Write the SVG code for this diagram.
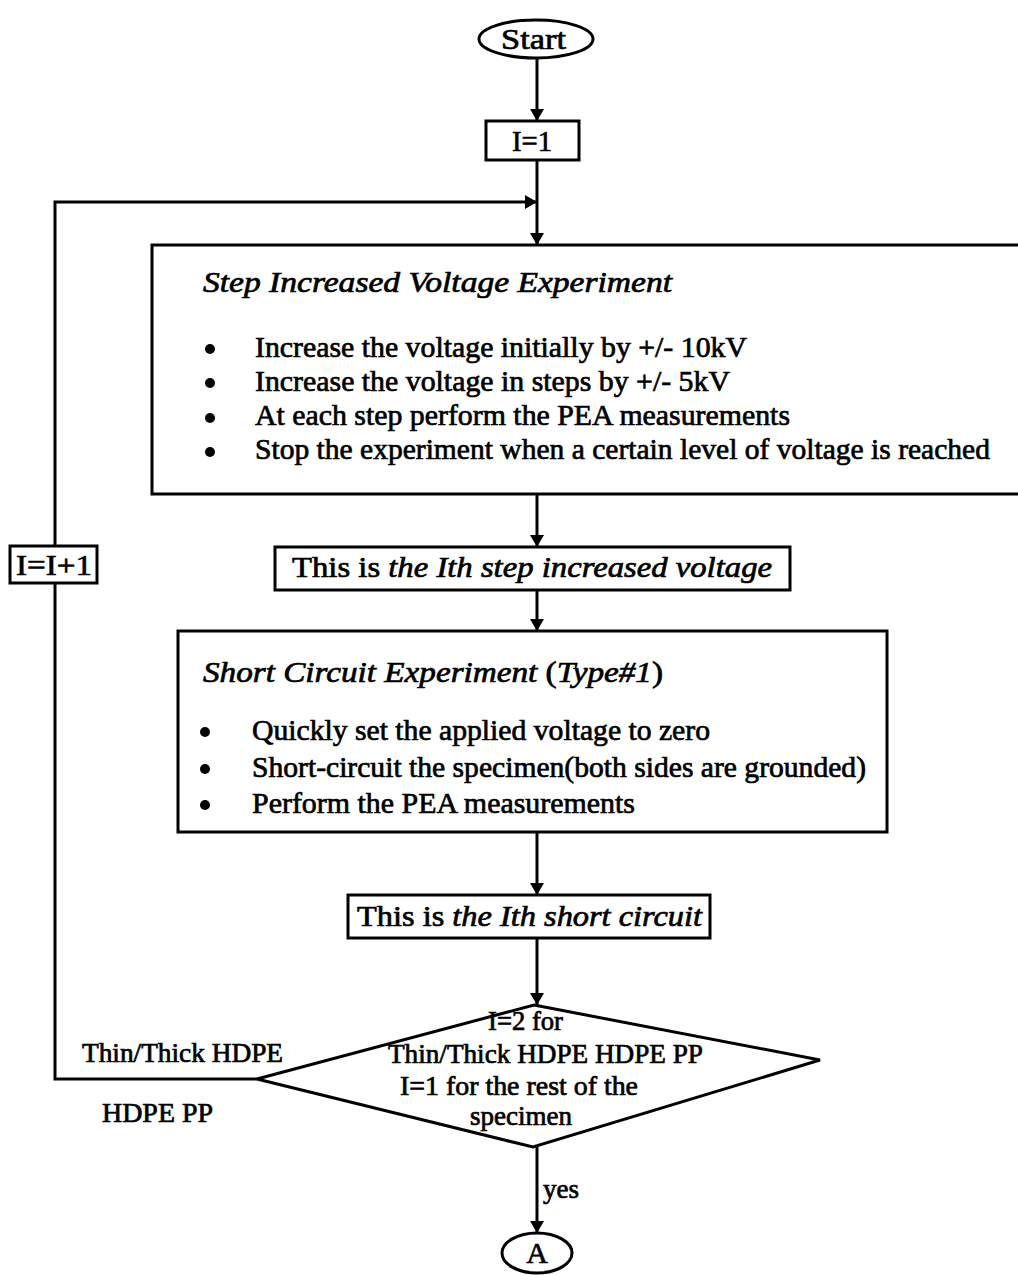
<svg xmlns="http://www.w3.org/2000/svg" width="1018" height="1275" viewBox="0 0 1018 1275">
  <defs>
    <marker id="arrow" viewBox="0 0 12 14" refX="12" refY="7" markerWidth="12" markerHeight="14" markerUnits="userSpaceOnUse" orient="auto">
      <path d="M0,0 L12,7 L0,14 Z" fill="#000"/>
    </marker>
    <style>
      .shape { fill: #fff; stroke: #000; stroke-width: 3; }
      .wire { fill: none; stroke: #000; stroke-width: 3; }
      text { font-family: "Liberation Serif", "Times New Roman", serif; font-size: 30px; fill: #000; stroke: #000; stroke-width: 0.7; }
      .it { font-style: italic; }
      .c { text-anchor: middle; }
      .sm { font-size: 27px; }
      .dot { fill: #000; }
    </style>
  </defs>
  <rect width="1018" height="1275" fill="#fff"/>

  <!-- connectors -->
  <g id="connectors">
    <line class="wire" x1="537" y1="58" x2="537" y2="121" marker-end="url(#arrow)"/>
    <line class="wire" x1="537" y1="160" x2="537" y2="245" marker-end="url(#arrow)"/>
    <line class="wire" x1="537" y1="494" x2="537" y2="547" marker-end="url(#arrow)"/>
    <line class="wire" x1="537" y1="590" x2="537" y2="631" marker-end="url(#arrow)"/>
    <line class="wire" x1="537" y1="832" x2="537" y2="895" marker-end="url(#arrow)"/>
    <line class="wire" x1="537" y1="938" x2="537" y2="1005" marker-end="url(#arrow)"/>
    <line class="wire" x1="537" y1="1147" x2="537" y2="1233" marker-end="url(#arrow)"/>
    <!-- loop back from the decision to the top of the experiment -->
    <polyline class="wire" points="257,1079 55,1079 55,583"/>
    <polyline class="wire" points="55,546 55,202 537,202" marker-end="url(#arrow)"/>
    <text class="sm" x="543" y="1198">yes</text>
    <text class="sm" x="82" y="1062" textLength="201" lengthAdjust="spacingAndGlyphs">Thin/Thick HDPE</text>
    <text class="sm" x="102" y="1122" textLength="111" lengthAdjust="spacingAndGlyphs">HDPE PP</text>
  </g>

  <g id="start">
    <ellipse class="shape" cx="536" cy="39" rx="57" ry="19"/>
    <text x="501" y="49" textLength="65" lengthAdjust="spacingAndGlyphs">Start</text>
  </g>

  <g id="init">
    <rect class="shape" x="486" y="121" width="93" height="39"/>
    <text x="512" y="151" textLength="40" lengthAdjust="spacingAndGlyphs">I=1</text>
  </g>

  <g id="increment">
    <rect class="shape" x="10" y="546" width="87" height="37"/>
    <text x="16" y="575" textLength="76" lengthAdjust="spacingAndGlyphs">I=I+1</text>
  </g>

  <g id="step-voltage">
    <rect class="shape" x="152" y="245" width="880" height="249"/>
    <text class="it" x="203" y="292" textLength="469" lengthAdjust="spacingAndGlyphs">Step Increased Voltage Experiment</text>
    <circle class="dot" cx="210" cy="349" r="5"/>
    <circle class="dot" cx="210" cy="383" r="5"/>
    <circle class="dot" cx="210" cy="418" r="5"/>
    <circle class="dot" cx="210" cy="452" r="5"/>
    <text x="255" y="357" textLength="492" lengthAdjust="spacingAndGlyphs">Increase the voltage initially by +/- 10kV</text>
    <text x="255" y="391" textLength="475" lengthAdjust="spacingAndGlyphs">Increase the voltage in steps by +/- 5kV</text>
    <text x="255" y="425" textLength="535" lengthAdjust="spacingAndGlyphs">At each step perform the PEA measurements</text>
    <text x="255" y="459" textLength="735" lengthAdjust="spacingAndGlyphs">Stop the experiment when a certain level of voltage is reached</text>
  </g>

  <g id="step-count">
    <rect class="shape" x="275" y="547" width="515" height="43"/>
    <text x="292" y="577" textLength="480" lengthAdjust="spacingAndGlyphs">This is <tspan class="it">the Ith step increased voltage</tspan></text>
  </g>

  <g id="short-circuit">
    <rect class="shape" x="178" y="631" width="709" height="201"/>
    <text x="203" y="682" textLength="460" lengthAdjust="spacingAndGlyphs"><tspan class="it">Short Circuit Experiment </tspan>(<tspan class="it">Type#1</tspan>)</text>
    <circle class="dot" cx="205" cy="732" r="5"/>
    <circle class="dot" cx="205" cy="769" r="5"/>
    <circle class="dot" cx="205" cy="805" r="5"/>
    <text x="252" y="740" textLength="458" lengthAdjust="spacingAndGlyphs">Quickly set the applied voltage to zero</text>
    <text x="252" y="777" textLength="614" lengthAdjust="spacingAndGlyphs">Short-circuit the specimen(both sides are grounded)</text>
    <text x="252" y="813" textLength="383" lengthAdjust="spacingAndGlyphs">Perform the PEA measurements</text>
  </g>

  <g id="short-count">
    <rect class="shape" x="348" y="895" width="362" height="43"/>
    <text x="357" y="926" textLength="345" lengthAdjust="spacingAndGlyphs">This is <tspan class="it">the Ith short circuit</tspan></text>
  </g>

  <g id="decision">
    <polygon class="shape" points="534,1005 820,1060 533,1147 257,1079"/>
    <text class="sm" x="488" y="1030" textLength="75" lengthAdjust="spacingAndGlyphs">I=2 for</text>
    <text class="sm" x="388" y="1063" textLength="315" lengthAdjust="spacingAndGlyphs">Thin/Thick HDPE HDPE PP</text>
    <text class="sm" x="400" y="1095" textLength="238" lengthAdjust="spacingAndGlyphs">I=1 for the rest of the</text>
    <text class="sm" x="470" y="1125" textLength="102" lengthAdjust="spacingAndGlyphs">specimen</text>
  </g>

  <g id="connector-a">
    <ellipse class="shape" cx="537" cy="1253" rx="35" ry="20"/>
    <text class="c" x="537" y="1263">A</text>
  </g>
</svg>
